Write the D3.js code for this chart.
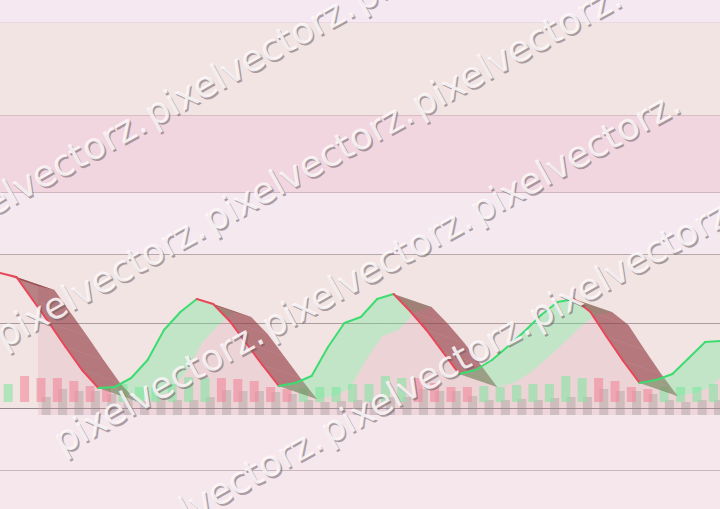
<!DOCTYPE html>
<html><head><meta charset="utf-8">
<script src="https://cdn.jsdelivr.net/npm/d3@7/dist/d3.min.js"></script>
<style>html,body{margin:0;padding:0;background:#f5e8ef;}svg{display:block}</style>
</head><body><svg id="c" width="720" height="509"></svg>
<script>
// ---- data ----
const days = d3.range(45);
const closes = [47.2,46.4,41.8,37.2,32.4,27.8,24.2,24.4,26.2,29.8,35.8,39.4,42.0,41.0,37.6,33.2,28.8,24.6,25.2,26.6,32.4,37.2,38.4,42.0,43.0,39.6,35.8,31.4,27.0,27.8,29.8,32.6,35.6,38.8,41.4,42.0,39.4,34.4,29.6,25.2,25.8,27.0,30.2,33.4,33.6];
const volumes = [18,26,24,24,21,16,14,18,15,15,18,25,24,24,23,21,15,13,14,15,15,18,18,26,24,24,19,15,15,16,15,17,18,18,26,24,24,21,15,13,15,15,15,18];
const gridTicks = [97.4,78.8,63.4,51,37.2,20.2,7.8];
const bandColors = ['#f5e8f0','#f2e4e2','#f2d6df','#f5e8ef','#f2e4e3','#f2e4e3','#f6e7ed','#f6e7ed'];
const gridColors = ['#ead8e2','#d6bec2','#d2b6bd','#b8a8ac','#aa9c9e','#958888','#c8b6bc'];
const watermark = "pixelvectorz.";

// ---- layout ----
const W = 720, H = 509, DX = 38, DY = 13;
const svg = d3.select('#c');
const y = d3.scaleLinear().domain([0, 101.8]).range([H, 0]);
const xl = d3.scaleLinear().domain([0, 44]).range([0, 721.6]);
const xb = d3.scaleBand().domain(d3.range(volumes.length)).range([0, 721.6]).paddingInner(0.45).paddingOuter(0.225);
const v = d3.scaleLinear().domain([0, 100]).range([402, 302]);
const GREEN = '#3ddc70', RED = '#e8475a';

// bands
const edges = [101.8, ...gridTicks, 0];
svg.selectAll('rect.band').data(bandColors).join('rect').attr('class','band')
  .attr('x',0).attr('width',W)
  .attr('y',(d,i)=>y(edges[i])).attr('height',(d,i)=>y(edges[i+1])-y(edges[i]))
  .attr('fill',d=>d);
// grid lines
svg.selectAll('line.grid').data(gridTicks).join('line').attr('class','grid')
  .attr('x1',0).attr('x2',W).attr('y1',d=>Math.round(y(d))+0.5).attr('y2',d=>Math.round(y(d))+0.5)
  .attr('stroke',(d,i)=>gridColors[i]).attr('stroke-width',1);

const pts = closes.map((c,i)=>({i, c}));
const up = i => i===0 ? true : closes[i] >= closes[i-1];

// back copy: area + bars
svg.append('path').datum(pts)
  .attr('d', d3.area().x(d=>xl(d.i)+DX).y0(v(0)+DY).y1(d=>y(d.c)+DY))
  .attr('fill','rgba(220,160,175,0.25)');
svg.append('g').selectAll('rect').data(volumes).join('rect')
  .attr('x',(d,i)=>xb(i)+DX).attr('width',xb.bandwidth())
  .attr('y',d=>v(d)+DY).attr('height',d=>v(0)-v(d))
  .attr('fill','rgba(140,138,132,0.3)');

// front bars
svg.append('g').selectAll('rect').data(volumes).join('rect')
  .attr('x',(d,i)=>xb(i)).attr('width',xb.bandwidth())
  .attr('y',d=>v(d)).attr('height',d=>v(0)-v(d))
  .attr('fill',(d,i)=>up(i)?'rgba(135,228,165,0.62)':'rgba(242,138,156,0.62)');

// ribbons
const segs = d3.range(closes.length-1);
svg.append('g').selectAll('path').data(segs).join('path')
  .attr('d', i => {
    const a = [xl(i), y(closes[i])], b = [xl(i+1), y(closes[i+1])];
    return d3.line()([a, b, [b[0]+DX,b[1]+DY], [a[0]+DX,a[1]+DY]]) + 'Z';
  })
  .attr('fill', i => up(i+1) ? 'rgba(110,230,150,0.36)' : 'rgba(125,30,35,0.5)');

// front line
svg.append('g').selectAll('path').data(segs).join('path')
  .attr('d', i => d3.line().x(d=>xl(d.i)).y(d=>y(d.c))([pts[i], pts[i+1]]))
  .attr('fill','none').attr('stroke', i => up(i+1) ? GREEN : RED)
  .attr('stroke-width',2).attr('stroke-linecap','round');

// watermark: four diagonal rows, three repeats each
const rows = d3.range(0, 4), cols = d3.range(-1, 2);
const cells = [];
rows.forEach(m => cols.forEach(k => cells.push({u: 72 + k*238, v: 186 + m*121})));
function wm(dx, dy, fill) {
  svg.append('g').attr('transform',`translate(${dx},${dy}) rotate(-29)`)
    .selectAll('text').data(cells).join('text')
    .attr('x',d=>d.u).attr('y',d=>d.v)
    .attr('textLength',234).attr('lengthAdjust','spacingAndGlyphs')
    .attr('font-family','DejaVu Sans').attr('font-size',37)
    .attr('fill',fill).text(watermark);
}
wm(1.6, 1.8, 'rgba(105,92,98,0.55)');
wm(0, 0, 'rgba(252,248,250,0.88)');
</script></body></html>
